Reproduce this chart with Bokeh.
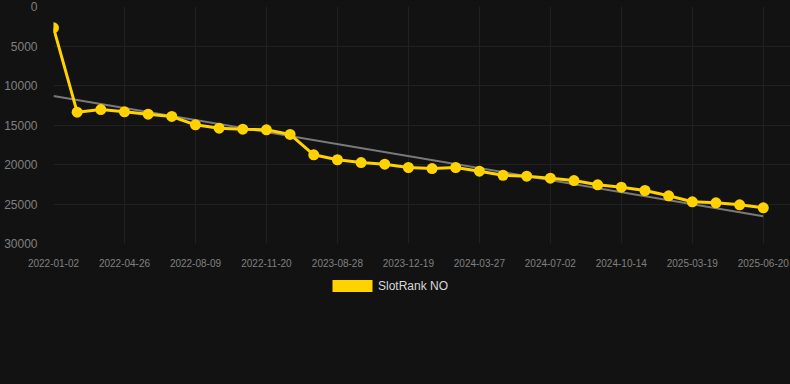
import numpy as np
from bokeh.plotting import figure
from bokeh.layouts import column
from bokeh.models import Range1d, FixedTicker, Legend, LegendItem, ColumnDataSource, BasicTickFormatter
from bokeh.embed import file_html
from bokeh.resources import INLINE

# ---- data ----
dates = [
    "2022-01-02", "2022-02-08", "2022-03-18", "2022-04-26", "2022-06-03", "2022-07-01",
    "2022-08-09", "2022-09-15", "2022-10-18", "2022-11-20", "2023-02-25", "2023-05-30",
    "2023-08-28", "2023-10-05", "2023-11-12", "2023-12-19", "2024-01-24", "2024-02-29",
    "2024-03-27", "2024-04-28", "2024-05-30", "2024-07-02", "2024-08-05", "2024-09-10",
    "2024-10-14", "2024-12-20", "2025-02-10", "2025-03-19", "2025-04-22", "2025-05-21",
    "2025-06-20",
]
ranks = [
    2700, 13380, 13040, 13330, 13630, 13920, 14980, 15400, 15530, 15610, 16200, 18770,
    19400, 19750, 19960, 20380, 20510, 20380, 20850, 21360, 21480, 21730, 22030, 22570,
    22870, 23290, 23960, 24720, 24850, 25100, 25480,
]
y_ticks = [0, 5000, 10000, 15000, 20000, 25000, 30000]
series_name = "SlotRank NO"

GOLD = "#FFD200"
BG = "#121212"
GRID = "#212121"
TICK = "#808080"
FONT = "Liberation Sans"

idx = list(range(len(dates)))
coef = np.polyfit(idx, ranks, 1)
trend_x = [idx[0], idx[-1]]
trend_y = [float(np.polyval(coef, v)) for v in trend_x]

TOP_H = 270
p = figure(
    width=790, height=TOP_H, output_backend="svg", toolbar_location=None,
    x_range=Range1d(0, 31.15), y_range=Range1d(30000, 0),
    min_border_left=53, min_border_right=0, min_border_top=6, min_border_bottom=TOP_H - 243,
    background_fill_color=BG, border_fill_color=BG, outline_line_color=None,
)

x_tick_pos = idx[::3]
p.xaxis.ticker = FixedTicker(ticks=x_tick_pos)
p.xaxis.major_label_overrides = {i: dates[i] for i in x_tick_pos}
p.yaxis.ticker = FixedTicker(ticks=y_ticks)
p.yaxis.formatter = BasicTickFormatter(use_scientific=False)

for ax in (p.xaxis[0], p.yaxis[0]):
    ax.axis_line_color = None
    ax.major_tick_line_color = None
    ax.minor_tick_line_color = None
    ax.major_label_text_color = TICK
    ax.major_label_text_font = FONT
    ax.major_label_standoff = 10
p.xaxis.major_label_text_font_size = "10px"
p.yaxis.major_label_text_font_size = "12px"
p.xaxis.major_label_standoff = 9

p.xgrid.grid_line_color = GRID
p.ygrid.grid_line_color = GRID

p.line(trend_x, trend_y, line_color="#7a7a7a", line_width=2)
src = ColumnDataSource(dict(x=idx, y=ranks))
p.line("x", "y", source=src, line_color=GOLD, line_width=3)
p.scatter("x", "y", source=src, size=11, fill_color=GOLD, line_color=None)

# legend strip below the chart (its frame is aligned with the chart's frame)
LEG_H = 384 - TOP_H
p2 = figure(
    width=790, height=LEG_H, output_backend="svg", toolbar_location=None,
    x_axis_type=None, y_axis_type=None,
    x_range=Range1d(0, 1), y_range=Range1d(0, 1),
    min_border=0, background_fill_color=BG, border_fill_color=BG, outline_line_color=None,
)
p2.grid.visible = False
# legend proxy for the series (its data lie outside this strip's ranges)
swatch = p2.quad(left="x", right="x", top="y", bottom="y", source=src,
                 fill_color=GOLD, line_color=None)
legend = Legend(
    items=[LegendItem(label=series_name, renderers=[swatch])],
    location=(274, LEG_H - 8 - 15), padding=0, margin=0, spacing=0,
    glyph_width=50, glyph_height=15, label_standoff=1,
    label_text_color="#d8d8d8", label_text_font=FONT, label_text_font_size="12px",
    background_fill_alpha=0, border_line_alpha=0,
)
p2.add_layout(legend, "center")

layout = column(p, p2, spacing=0, styles={"background-color": BG})
open("out.html", "w").write(file_html(layout, INLINE))
